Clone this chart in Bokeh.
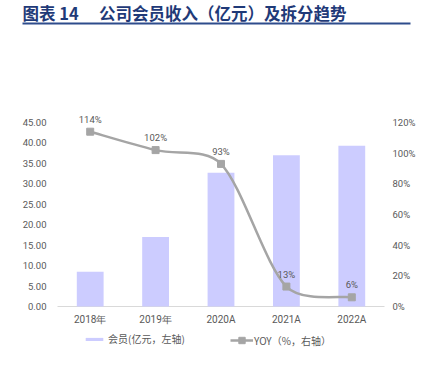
import math
from bokeh.plotting import figure
from bokeh.models import (Range1d, LinearAxis, FixedTicker, PrintfTickFormatter,
                          Legend, LegendItem, ColumnDataSource, BoxAnnotation, Label)
from bokeh.embed import file_html
from bokeh.resources import INLINE
from bokeh.core.properties import value

# ---------------- data ----------------
categories = ["2018年", "2019年", "2020A", "2021A", "2022A"]
member_revenue = [8.5, 17.0, 32.7, 37.0, 39.3]      # 亿元, left axis
yoy_pct = [114, 102, 93, 13, 6]                     # %, right axis
left_ticks = [0, 5, 10, 15, 20, 25, 30, 35, 40, 45]
right_ticks = [0, 20, 40, 60, 80, 100, 120]
title_text = "图表\u00a014\u3000\u00a0公司会员收入（亿元）及拆分趋势"
series_names = ["会员(亿元，左轴)", "YOY（%，右轴）"]

# ---------------- styles / layout ----------------
BAR = "#CCCCFF"
LINE = "#A5A5A5"
TXT = "#595959"
NUM_FONT = "Roboto"
CJK_FONT = "Noto Sans CJK SC"

W, H = 424, 386
PLOT_L, PLOT_R, PLOT_T, PLOT_B = 57, 384, 122, 306     # plot area in canvas pixels

xs = list(range(len(categories)))
ux = (PLOT_R - PLOT_L) / len(categories)                # px per category
uy = (PLOT_B - PLOT_T) / (left_ticks[-1] - left_ticks[0])
uy2 = (PLOT_B - PLOT_T) / (right_ticks[-1] - right_ticks[0])

def dx(px):  # canvas x -> data x
    return -0.5 + (px - PLOT_L) / ux
def dy(py):  # canvas y -> left-axis value
    return left_ticks[0] + (PLOT_B - py) / uy

p = figure(width=W, height=H, output_backend="svg", toolbar_location=None,
           x_range=Range1d(dx(0), dx(W)),
           y_range=Range1d(dy(H), dy(0)),
           min_border=0)
p.outline_line_color = None
p.grid.visible = False
p.extra_y_ranges = {"right": Range1d(right_ticks[0] - (H - PLOT_B) / uy2,
                                     right_ticks[0] + PLOT_B / uy2)}

# header: title + rule
p.add_layout(Label(x=dx(22), y=dy(0), text=title_text, text_baseline="top",
                   text_font=CJK_FONT, text_font_size="16.5px", text_font_style="bold",
                   text_color="#1F3A78"))
p.add_layout(BoxAnnotation(left=dx(22), right=dx(410), top=dy(22), bottom=dy(24),
                           fill_color="#2E4C8C", fill_alpha=1, line_color=None))

# category axis base line
p.segment(x0=[xs[0] - 0.5], y0=[left_ticks[0]], x1=[xs[-1] + 0.5], y1=[left_ticks[0]],
          line_color="#D9D9D9", line_width=1)

bars = p.vbar(x=xs, top=member_revenue, width=0.41, fill_color=BAR, line_color=None)

# smoothed line: bezier segments between data points (tangents computed in pixel space,
# capped at a third of the segment length, similar to spreadsheet smoothing)
n = len(yoy_pct)
PX = [x * ux for x in xs]
PY = [v * uy2 for v in yoy_pct]
def tangent(i):
    a, b = max(i - 1, 0), min(i + 1, n - 1)
    return (PX[b] - PX[a]) / 6, (PY[b] - PY[a]) / 6
def capped(t, seg):
    L = math.hypot(*t)
    lim = seg / 3
    k = min(1.0, lim / L) if L > 0 else 1.0
    return t[0] * k, t[1] * k
bz = dict(x0=[], y0=[], x1=[], y1=[], cx0=[], cy0=[], cx1=[], cy1=[])
for i in range(n - 1):
    seg = math.hypot(PX[i + 1] - PX[i], PY[i + 1] - PY[i])
    t0 = capped(tangent(i), seg)
    t1 = capped(tangent(i + 1), seg)
    bz["x0"].append(xs[i]); bz["y0"].append(yoy_pct[i])
    bz["x1"].append(xs[i + 1]); bz["y1"].append(yoy_pct[i + 1])
    bz["cx0"].append((PX[i] + t0[0]) / ux); bz["cy0"].append((PY[i] + t0[1]) / uy2)
    bz["cx1"].append((PX[i + 1] - t1[0]) / ux); bz["cy1"].append((PY[i + 1] - t1[1]) / uy2)
p.bezier(x0="x0", y0="y0", x1="x1", y1="y1", cx0="cx0", cy0="cy0", cx1="cx1", cy1="cy1",
         source=ColumnDataSource(bz), line_color=LINE, line_width=2.5, y_range_name="right")

# one-point line: invisible on the chart, used for the legend swatch
legend_line = p.line(x=xs[:1], y=yoy_pct[:1], line_color=LINE, line_width=2.5,
                     y_range_name="right")
pts = p.scatter(x=xs, y=yoy_pct, marker="square", size=7, fill_color=LINE,
                line_color=LINE, y_range_name="right")

p.text(x=xs, y=yoy_pct, text=[f"{v}%" for v in yoy_pct], y_offset=-7,
       text_align="center", text_baseline="bottom", text_font=value(NUM_FONT),
       text_font_size="9.5px", text_color=TXT, y_range_name="right")

def style_axis(ax, size):
    ax.axis_line_color = None
    ax.major_tick_line_color = None
    ax.minor_tick_line_color = None
    ax.major_tick_out = 0
    ax.major_tick_in = 0
    ax.minor_tick_out = 0
    ax.minor_tick_in = 0
    ax.major_label_text_font = NUM_FONT
    ax.major_label_text_font_size = size
    ax.major_label_text_color = TXT

# x axis (labels pulled up under the plot area)
style_axis(p.xaxis[0], "10px")
p.xaxis.ticker = FixedTicker(ticks=xs)
p.xaxis.major_label_overrides = {i: c for i, c in enumerate(categories)}
p.xaxis.major_label_standoff = 313 - H

# left axis
style_axis(p.yaxis[0], "9.5px")
p.yaxis.ticker = FixedTicker(ticks=left_ticks)
p.yaxis.formatter = PrintfTickFormatter(format="%.2f")
p.yaxis.major_label_standoff = -46

# right axis
ra = LinearAxis(y_range_name="right", ticker=FixedTicker(ticks=right_ticks),
                major_label_overrides={t: f"{t}%" for t in right_ticks})
style_axis(ra, "9.5px")
ra.major_label_standoff = 392 - W
p.add_layout(ra, "right")

common = dict(orientation="horizontal", label_height=12, padding=4, margin=0,
              border_line_color=None, label_text_font=CJK_FONT,
              label_text_font_size="10px", label_text_color=TXT, background_fill_alpha=0)
leg1 = Legend(items=[LegendItem(label=series_names[0], renderers=[bars])],
              location=(83, H - 346), glyph_width=22, glyph_height=4, label_standoff=3,
              **common)
leg2 = Legend(items=[LegendItem(label=series_names[1], renderers=[legend_line, pts])],
              location=(230, H - 348), glyph_width=23, glyph_height=16, label_standoff=1,
              **common)
p.add_layout(leg1, "center")
p.add_layout(leg2, "center")

open("out.html", "w").write(file_html(p, INLINE))
